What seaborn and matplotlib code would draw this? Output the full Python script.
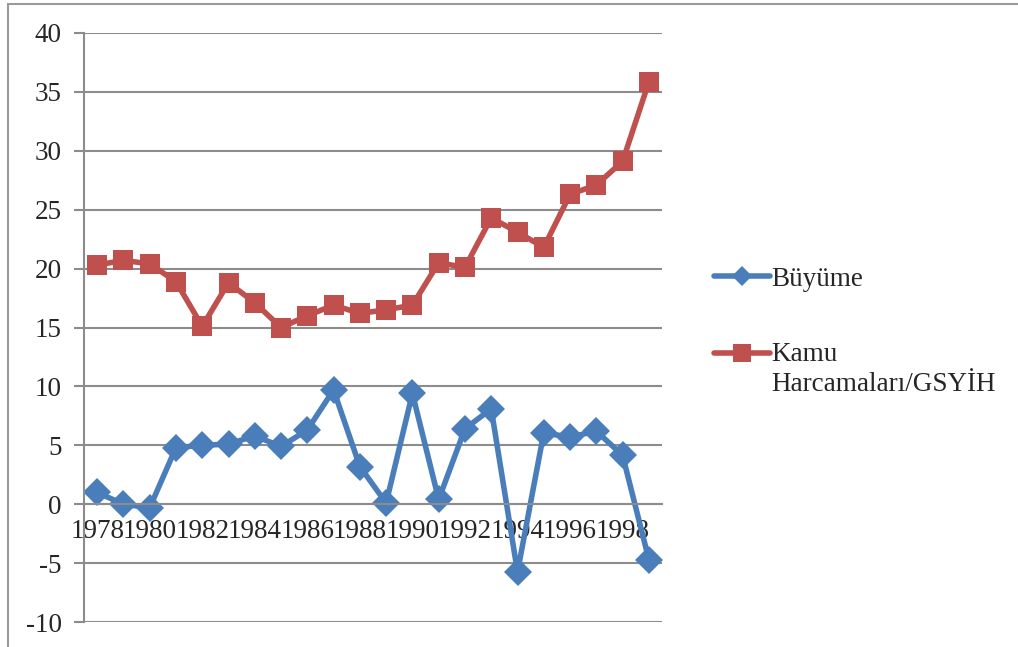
import numpy as np
import pandas as pd
import matplotlib
matplotlib.use("Agg")
import matplotlib.pyplot as plt
import seaborn as sns
from matplotlib.patches import Rectangle
from matplotlib.ticker import FixedLocator, MultipleLocator
from matplotlib.legend_handler import HandlerLine2D

# ---------------- DATA ----------------
years = list(range(1978, 2000))
buyume = [1.0, 0.0, -0.3, 4.8, 5.0, 5.1, 5.8, 4.9, 6.3, 9.7, 3.2,
          0.1, 9.4, 0.4, 6.4, 8.1, -5.75, 6.05, 5.7, 6.2, 4.15, -4.7]
kamu = [20.3, 20.7, 20.4, 18.9, 15.1, 18.8, 17.1, 15.0, 16.0, 16.9, 16.2,
        16.5, 16.9, 20.5, 20.1, 24.3, 23.1, 21.8, 26.3, 27.1, 29.1, 35.85]
series_names = ["Büyüme", "Kamu\nHarcamaları/GSYİH"]

df = pd.DataFrame({
    "pos": list(range(len(years))) * 2,
    "value": buyume + kamu,
    "series": [series_names[0]] * len(years) + [series_names[1]] * len(years),
})

# ---------------- STYLE ----------------
sns.set_style("white")
plt.rcParams["font.family"] = ["Liberation Serif", "DejaVu Serif"]
plt.rcParams["axes.unicode_minus"] = False
grid_col = "#8c8c8c"
fs = 19.5


class FirstLineHandler(HandlerLine2D):
    # puts the legend key next to the first line of a two-line label
    def __init__(self, shift, **kw):
        super().__init__(**kw)
        self.shift = shift

    def create_artists(self, legend, orig_handle, xdescent, ydescent, width, height, fontsize, trans):
        artists = super().create_artists(legend, orig_handle, xdescent, ydescent,
                                         width, height, fontsize, trans)
        for a in artists:
            a.set_ydata(np.asarray(a.get_ydata()) + self.shift)
        return artists


fig = plt.figure(figsize=(10.18, 6.47), dpi=100)
ax = fig.add_axes([84 / 1018, 1 - 622 / 647, (662 - 84) / 1018, (622 - 33) / 647])

sns.lineplot(data=df, x="pos", y="value", hue="series", style="series",
             markers={series_names[0]: "D", series_names[1]: "s"}, dashes=False,
             palette={series_names[0]: "#4A7EBB", series_names[1]: "#C0504D"},
             linewidth=4, markersize=14, markeredgewidth=0, ax=ax)

ax.set_xlim(-0.5, len(years) - 0.5)
ax.set_ylim(-10, 40)
ax.yaxis.set_major_locator(MultipleLocator(5))
ax.yaxis.grid(True, color=grid_col, linewidth=1.5)
ax.set_axisbelow(True)

# category axis crosses at zero
for s in ["top", "right"]:
    ax.spines[s].set_visible(False)
ax.spines["bottom"].set_position(("data", 0))
ax.spines["bottom"].set_color(grid_col)
ax.spines["bottom"].set_linewidth(1.5)
ax.spines["left"].set_color(grid_col)
ax.spines["left"].set_linewidth(1.5)

ax.xaxis.set_major_locator(FixedLocator(list(range(0, len(years), 2))))
ax.set_xticklabels([str(y) for y in years[::2]])
ax.xaxis.set_minor_locator(FixedLocator(list(np.arange(-0.5, len(years), 1.0))))
ax.tick_params(axis="x", which="major", length=0, pad=11, labelsize=fs)
ax.tick_params(axis="x", which="minor", length=7, width=1.5, color=grid_col, direction="out")
ax.tick_params(axis="y", which="major", length=7, width=1.5, color=grid_col, direction="out",
               left=True, labelsize=fs, pad=9)
ax.set_xlabel("")
ax.set_ylabel("")

handles, labels = ax.get_legend_handles_labels()
leg = ax.legend(handles, labels, loc="center left", bbox_to_anchor=(690 / 1018, 0.487),
                bbox_transform=fig.transFigure, frameon=False, fontsize=fs,
                handlelength=2.05, handletextpad=0.05, labelspacing=1.85,
                handler_map={handles[1]: FirstLineHandler(shift=0.6 * fs)})
for t in leg.get_texts():
    t.set_linespacing(1.3)
for h, ms in zip(leg.legend_handles, [10, 13]):
    h.set_markersize(ms)

# outer chart border (only top and left visible)
fig.patches.append(Rectangle((8 / 1018, -0.1), 1.2, 1 - 4 / 647 + 0.1,
                             transform=fig.transFigure, fill=False,
                             edgecolor="#9a9a9a", linewidth=1.5))

fig.savefig("out.png", dpi=100)
